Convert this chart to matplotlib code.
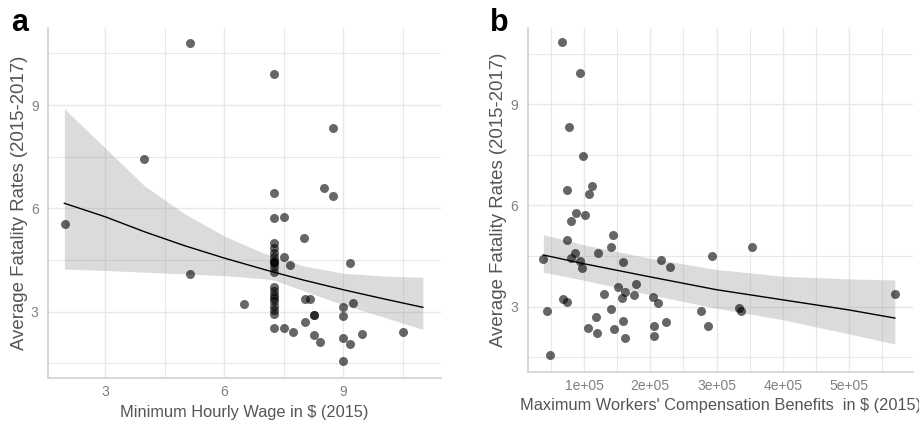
import matplotlib
matplotlib.use("Agg")
import matplotlib.pyplot as plt

plt.rcParams['font.family'] = ['Liberation Sans', 'DejaVu Sans']

# ---- Panel a data ----
wage = [1.99, 3.98, 5.14, 5.14, 6.51,
        7.25, 7.25, 7.25, 7.25, 7.25, 7.25, 7.25, 7.25, 7.25, 7.25, 7.25,
        7.25, 7.25, 7.25, 7.25, 7.25, 7.25, 7.25, 7.25, 7.25, 7.25,
        7.51, 7.51, 7.51, 7.66, 7.74, 8.01, 8.04, 8.04, 8.15, 8.25, 8.25, 8.25,
        8.40, 8.50, 8.75, 8.75, 9.0, 9.0, 9.0, 9.0, 9.17, 9.17, 9.24, 9.48, 10.51]
fat_a = [5.55, 7.45, 10.81, 4.11, 3.22,
         9.90, 6.46, 5.71, 4.99, 4.85, 4.72, 4.60, 4.47, 4.45, 4.42, 4.30,
         4.15, 3.73, 3.60, 3.50, 3.40, 3.30, 3.18, 3.05, 2.95, 2.52,
         5.76, 4.60, 2.54, 4.36, 2.42, 5.13, 3.36, 2.69, 3.36, 2.90, 2.90, 2.32,
         2.13, 6.58, 8.33, 6.36, 3.15, 2.88, 2.23, 1.58, 4.41, 2.06, 3.26, 2.37, 2.42]

fit_a_x = [1.975, 3.0, 4.0, 5.0, 6.0, 7.0, 7.25, 8.0, 9.0, 10.0, 11.0]
fit_a_y = [6.15, 5.76, 5.32, 4.92, 4.56, 4.23, 4.15, 3.92, 3.64, 3.38, 3.13]
fit_a_hi = [8.89, 7.76, 6.65, 5.85, 5.20, 4.70, 4.60, 4.33, 4.12, 4.04, 4.00]
fit_a_lo = [4.24, 4.20, 4.15, 4.10, 4.05, 3.96, 3.92, 3.61, 3.20, 2.85, 2.49]

# ---- Panel b data ----
benefit = [0.673e5, 0.94e5, 0.779e5, 0.98e5, 1.116e5, 1.075e5, 0.748e5, 0.879e5, 1.02e5,
           0.80e5, 0.748e5, 1.443e5, 1.408e5, 1.216e5, 0.859e5, 0.80e5, 0.94e5, 0.97e5,
           0.386e5, 1.584e5, 2.167e5, 2.293e5, 2.927e5, 3.536e5, 5.69e5, 1.79e5, 1.508e5,
           1.614e5, 1.755e5, 1.302e5, 1.569e5, 2.036e5, 2.122e5, 0.688e5, 0.748e5, 0.436e5,
           1.408e5, 2.761e5, 3.335e5, 3.37e5, 1.186e5, 1.584e5, 2.233e5, 1.06e5, 1.20e5,
           1.453e5, 2.057e5, 2.872e5, 1.614e5, 2.057e5, 0.482e5]
fat_b = [10.83, 9.92, 8.31, 7.45, 6.59, 6.34, 6.46, 5.76, 5.72,
         5.55, 4.96, 5.11, 4.76, 4.58, 4.60, 4.43, 4.35, 4.13,
         4.41, 4.31, 4.39, 4.16, 4.49, 4.78, 3.38, 3.67, 3.57,
         3.44, 3.34, 3.36, 3.26, 3.27, 3.11, 3.23, 3.13, 2.88,
         2.92, 2.88, 2.96, 2.88, 2.68, 2.56, 2.53, 2.36, 2.23,
         2.33, 2.42, 2.42, 2.06, 2.12, 1.55]

fit_b_x = [0.386e5, 1.0e5, 2.0e5, 3.0e5, 4.0e5, 5.0e5, 5.69e5]
fit_b_y = [4.53, 4.27, 3.88, 3.50, 3.20, 2.90, 2.66]
fit_b_hi = [5.13, 4.83, 4.43, 4.10, 3.90, 3.82, 3.79]
fit_b_lo = [4.02, 3.78, 3.35, 2.95, 2.61, 2.19, 1.89]

y_ticks = [3, 6, 9]
y_minor = [1.5, 4.5, 7.5, 10.5]
xa_ticks = [3, 6, 9]
xa_minor = [4.5, 7.5, 10.5]
xb_ticks = [1e5, 2e5, 3e5, 4e5, 5e5]
xb_labels = ['1e+05', '2e+05', '3e+05', '4e+05', '5e+05']
xb_minor = [0.5e5, 1.5e5, 2.5e5, 3.5e5, 4.5e5, 5.5e5]

fig = plt.figure(figsize=(9.2, 4.26), dpi=100)
ax1 = fig.add_axes([0.0525, 0.112, 0.4265, 0.8216])
ax2 = fig.add_axes([0.5736, 0.1275, 0.4185, 0.806])

GRID = '#e8e8e8'
AXL = '#d4d4d4'
TICKC = '#808080'
TITLEC = '#555555'


def style(ax, xt, xminor, xlabels=None):
    ax.set_yticks(y_ticks)
    ax.set_yticks(y_minor, minor=True)
    ax.set_xticks(xt)
    if xlabels is not None:
        ax.set_xticklabels(xlabels)
    ax.set_xticks(xminor, minor=True)
    ax.grid(True, which='major', color=GRID, lw=1.0, zorder=0)
    ax.grid(True, which='minor', color=GRID, lw=0.8, zorder=0)
    ax.set_axisbelow(True)
    for s in ['top', 'right']:
        ax.spines[s].set_visible(False)
    for s in ['left', 'bottom']:
        ax.spines[s].set_color(AXL)
        ax.spines[s].set_linewidth(1.3)
    ax.tick_params(which='both', length=0)
    ax.tick_params(axis='both', labelsize=10, labelcolor=TICKC)
    ax.tick_params(axis='y', pad=7)
    ax.tick_params(axis='x', pad=5)


# Panel a
ax1.fill_between(fit_a_x, fit_a_lo, fit_a_hi, color='0.6', alpha=0.35, lw=0, zorder=2)
ax1.plot(fit_a_x, fit_a_y, color='black', lw=1.0, zorder=3)
ax1.scatter(wage, fat_a, s=42, color='black', alpha=0.6, lw=0, zorder=4)
ax1.set_xlim(1.57, 11.45)
ax1.set_ylim(1.07, 11.23)
style(ax1, xa_ticks, xa_minor)
ax1.set_xlabel('Minimum Hourly Wage in $ (2015)', fontsize=11.8, color=TITLEC, labelpad=4)
ax1.set_ylabel('Average Fatality Rates (2015-2017)', fontsize=13.4, color=TITLEC, labelpad=2)

# Panel b
ax2.fill_between(fit_b_x, fit_b_lo, fit_b_hi, color='0.6', alpha=0.35, lw=0, zorder=2)
ax2.plot(fit_b_x, fit_b_y, color='black', lw=1.0, zorder=3)
ax2.scatter(benefit, fat_b, s=42, color='black', alpha=0.6, lw=0, zorder=4)
ax2.set_xlim(0.15e5, 5.96e5)
ax2.set_ylim(1.07, 11.25)
style(ax2, xb_ticks, xb_minor, xb_labels)
ax2.set_xlabel("Maximum Workers' Compensation Benefits  in $ (2015)", fontsize=11.8,
               color=TITLEC, labelpad=4)
ax2.set_ylabel('Average Fatality Rates (2015-2017)', fontsize=13.4, color=TITLEC, labelpad=2)

fig.text(0.012, 0.928, 'a', fontsize=22, fontweight='bold', color='black')
fig.text(0.533, 0.928, 'b', fontsize=22, fontweight='bold', color='black')

fig.savefig('out.png', dpi=100)
